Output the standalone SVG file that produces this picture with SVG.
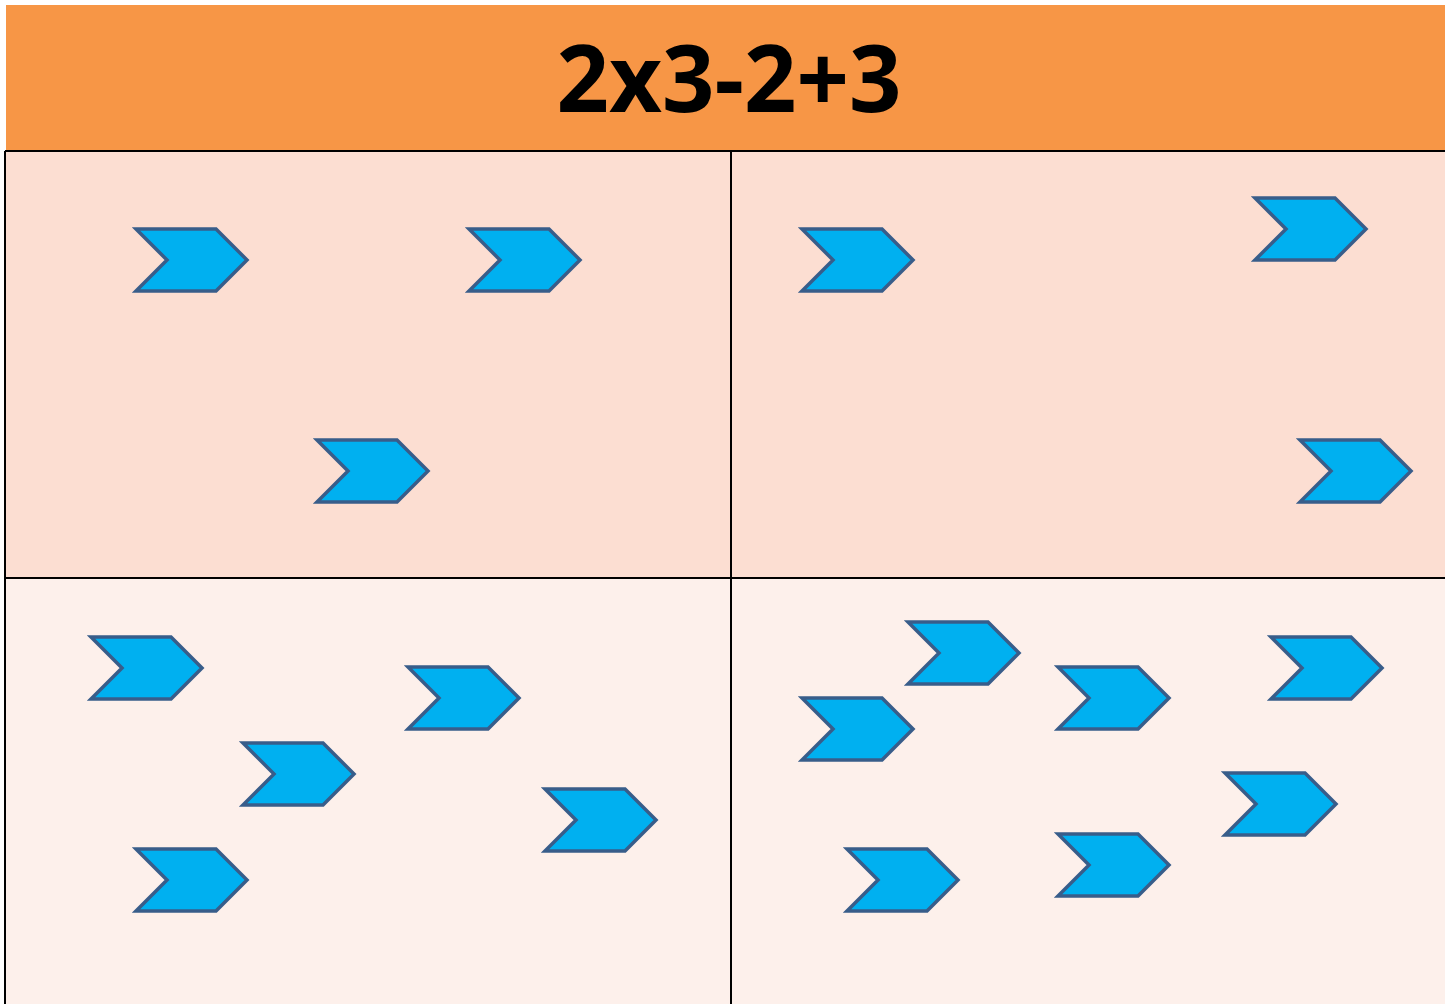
<svg xmlns="http://www.w3.org/2000/svg" xmlns:xlink="http://www.w3.org/1999/xlink" width="1445" height="1004" viewBox="0 0 1445 1004">
<style>
.top{fill:#FCDED2}
.bot{fill:#FDF0EB}
.grid{stroke:#000;stroke-width:2;fill:none}
.chev{fill:#00B0F0;stroke:#385D8A;stroke-width:3.5;stroke-linejoin:miter}
.title{font-family:"Open Sans","Liberation Sans",sans-serif;font-weight:bold;font-size:94px;fill:#000}
</style>
<defs>
<path id="chev" class="chev" d="M0,0 H80 L111,31 L80,62 H0 L31,31 Z"/>
</defs>
<rect x="0" y="0" width="1445" height="1004" fill="#fff"/>
<g id="header">
<rect x="6" y="5" width="1439" height="146" fill="#F79646"/>
<text class="title" x="729" y="112" text-anchor="middle" textLength="345" lengthAdjust="spacingAndGlyphs">2x3-2+3</text>
</g>
<g id="panels">
<rect class="top" x="5" y="151" width="1440" height="427"/>
<rect class="bot" x="5" y="578" width="1440" height="426"/>
<path class="grid" d="M5,151 H1445 M5,151 V1004 M731,151 V1004 M5,578 H1445"/>
</g>
<g id="panel-top-left">
<use xlink:href="#chev" x="136" y="229"/>
<use xlink:href="#chev" x="469" y="229"/>
<use xlink:href="#chev" x="317" y="440"/>
</g>
<g id="panel-top-right">
<use xlink:href="#chev" x="802" y="229"/>
<use xlink:href="#chev" x="1255" y="198"/>
<use xlink:href="#chev" x="1300" y="440"/>
</g>
<g id="panel-bottom-left">
<use xlink:href="#chev" x="91" y="637"/>
<use xlink:href="#chev" x="408" y="667"/>
<use xlink:href="#chev" x="243" y="743"/>
<use xlink:href="#chev" x="545" y="789"/>
<use xlink:href="#chev" x="136" y="849"/>
</g>
<g id="panel-bottom-right">
<use xlink:href="#chev" x="908" y="622"/>
<use xlink:href="#chev" x="802" y="698"/>
<use xlink:href="#chev" x="1058" y="667"/>
<use xlink:href="#chev" x="1271" y="637"/>
<use xlink:href="#chev" x="1225" y="773"/>
<use xlink:href="#chev" x="847" y="849"/>
<use xlink:href="#chev" x="1058" y="834"/>
</g>
<g id="connectors"></g>
</svg>
